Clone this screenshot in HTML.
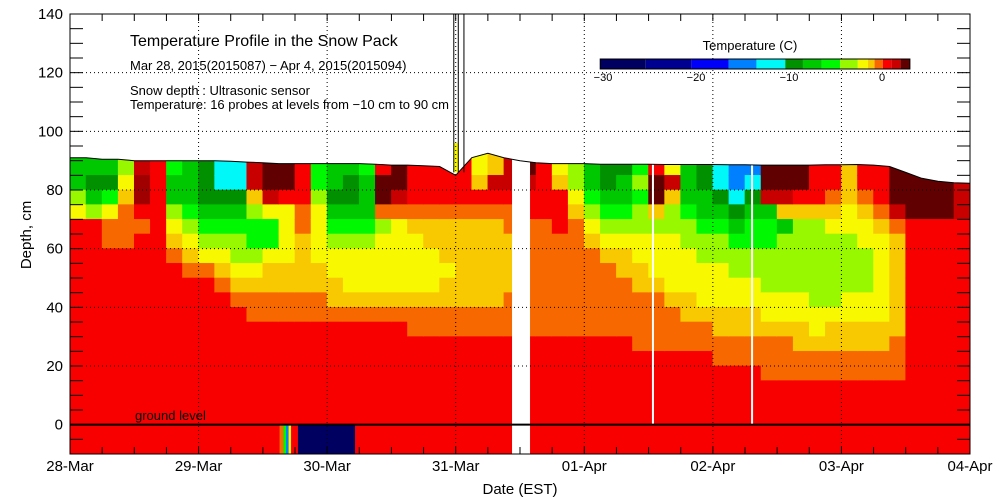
<!DOCTYPE html>
<html><head><meta charset="utf-8"><style>
html,body{margin:0;padding:0;background:#fff;}
svg{display:block;font-family:"Liberation Sans",sans-serif;}
</style></head><body>
<svg id="chart" width="1000" height="500" viewBox="0 0 1000 500" xmlns="http://www.w3.org/2000/svg">
<defs><clipPath id="snowclip"><polygon id="clipPoly" points=""/></clipPath></defs>
<g id="heat" clip-path="url(#snowclip)"></g>
<g id="overlay"></g>
<text x="130" y="46" font-size="16">Temperature Profile in the Snow Pack</text>
<text x="130" y="70" font-size="13">Mar 28, 2015(2015087) − Apr  4, 2015(2015094)</text>
<text x="130" y="95" font-size="13">Snow depth : Ultrasonic sensor</text>
<text x="130" y="109" font-size="13">Temperature: 16 probes at levels from −10 cm to 90 cm</text>
<text x="750" y="50" font-size="13" text-anchor="middle">Temperature (C)</text>
<g id="legend"></g>
<text x="520" y="494" font-size="15" text-anchor="middle">Date (EST)</text>
<text x="0" y="0" font-size="15" text-anchor="middle" transform="translate(31,235) rotate(-90)">Depth, cm</text>
<text x="135" y="420" font-size="13">ground level</text>
</svg>
<script>
const dayLabels = ["28-Mar","29-Mar","30-Mar","31-Mar","01-Apr","02-Apr","03-Apr","04-Apr"];
const depthTicks = [-10,0,20,40,60,80,100,120,140];
const depthTickLabels = ["","0","20","40","60","80","100","120","140"];
const snowDepth = [91,91,90.5,90.5,90,90,90,90,90,90,89.8,89.5,89.3,89,89,89,89,89,89,88.8,88.5,88.5,88.3,88,85,91,92.5,91,90,89.3,89,89,89,88.8,88.8,88.8,88.8,88.7,88.7,88.7,88.7,88.6,88.6,88.5,88.5,88.5,88.5,88.6,88.6,88.7,88.5,88,86,84,83,82.5,82.3];
const columns = ["GGYyrr","GDGYr","GDLyoo","Yyaooo","RMMro","rrrr","LGGYyao","GGGLYyao","DDDGLYyo","ccDGLYyao","ccDGLYYyao","RRaYLLYyaoo","KKRyLLyaaoo","KKryyyyaaoo","rrrooaaaaoo","LLYyyyyaaoo","GGDGLYyyaao","GDDGLYyyyao","LGGGLYyyyao","rKKoYyyyyao","KKRoyyyyyao","rrroayyyyaoo","rrroaayyyaoo","rrroaaayaaoo","rrroaaaaaaoo","yaroaaaaaaoo","aRroaaaaaaoo","RRrooaaaaooo","KRrroooooooo","rrrroooooooo","yarrrooooooo","YYyaoooooooo","GGLYyaoooooo","DDGLYyaooooo","DGGLYyaaoooo","LYLYYyyaaoooo","rKKaYyyyaoooo","yRaYYyyyyaooo","GGGLYYyyyaaoo","DDGGLYYyyyaoo","ccDGLYYyyyaaoo","bbcDGLYYyyaaoo","bcDGLLYYyyaaoo","KKRGLLYYYyyaooo","KKRaGYYYYyyaooo","KKraYYYYYyyaaoo","rrraYYYYYYyyaoo","rroayYYYYYyaaoo","aaayyYYYYyyaaoo","rroayyYYYyyaaoo","rrroayyyyyyaaoo","KKKRoaaaaaaaooo","KKKKrrrrrrrr","KKKK","KKKK","RRRR"];
const groundBlocks = [[1.63,1.66,"o"],[1.66,1.68,"L"],[1.68,1.70,"b"],[1.70,1.72,"y"],[1.72,1.745,"r"],[1.773,2.217,"N"]];
const gapStart = 3.438, gapEnd = 3.578;
const whiteLines = [4.534,5.305];
const spikeTimes = [2.985,3.02,3.064];
const spikeTop = 140;
const legendBounds = [-30.3,-25.4,-20.5,-16.5,-13.5,-10.4,-8.5,-6.5,-4.5,-2.6,-1.5,-0.8,0.1,1,2,3];
const legendCodes = ["N","n","U","b","c","D","G","L","Y","y","a","o","r","R","K"];
const legendTicks = [-30,-20,-10,0];

const palette = {N:"#000060",n:"#000090",U:"#0000f8",b:"#0080ff",c:"#00f8f8",D:"#009000",G:"#00c800",L:"#00f800",Y:"#98f800",y:"#f8f800",a:"#f8c800",o:"#f86800",r:"#f80000",R:"#c80000",M:"#a00000",K:"#600000"};
const X0=70,X1=970,Y0=14,Y1=454;
const xs = d => X0 + d*(X1-X0)/7;
const ys = v => Y1 - (v+10)*(Y1-Y0)/150;
const lx = t => 603 + (t+30)*9.3;
const NS="http://www.w3.org/2000/svg";
function mk(tag, attrs, parent){const e=document.createElementNS(NS,tag);for(const k in attrs)e.setAttribute(k,attrs[k]);parent.appendChild(e);return e;}
const svg=document.getElementById('chart'), heat=document.getElementById('heat'), ov=document.getElementById('overlay'), leg=document.getElementById('legend');

// clip polygon from snow depth
const step = 7/(snowDepth.length-1);
let pts = snowDepth.map((v,i)=>xs(i*step).toFixed(1)+","+ys(v).toFixed(1));
pts.push(X1+","+Y1, X0+","+Y1);
document.getElementById('clipPoly').setAttribute('points', pts.join(" "));

// base red below
let base = mk('rect',{x:X0,y:ys(15),width:X1-X0,height:Y1-ys(15),fill:palette.r},heat);


const cw = 7/columns.length;
columns.forEach((col,i)=>{
  for(let k=0;k<16;k++){
    const code = col[k] || "r";
    const top = k===0 ? 100 : 90-5*k, bot = 85-5*k;
    const r = mk('rect',{x:xs(i*cw)-0.3,y:ys(top)-0.3,width:xs(cw)-X0+0.6,height:ys(bot)-ys(top)+0.6,fill:palette[code]},heat);
    
    
  }
});
groundBlocks.forEach(b=>{
  const r = mk('rect',{x:xs(b[0]),y:ys(0),width:xs(b[1])-xs(b[0]),height:ys(-10)-ys(0),fill:palette[b[2]]},heat);
  
  
});
// spike yellow
let sp = mk('rect',{x:xs(spikeTimes[0]),y:ys(96),width:xs(spikeTimes[1])-xs(spikeTimes[0]),height:ys(86)-ys(96),fill:palette.y},ov);


// gap
let gp = mk('rect',{x:xs(gapStart),y:ys(95),width:xs(gapEnd)-xs(gapStart),height:Y1-ys(95),fill:"#fff"},ov);


whiteLines.forEach(d=>{
  const l = mk('rect',{x:xs(d)-1,y:ys(90),width:2,height:ys(0)-ys(90),fill:"#fff"},ov);
  
  
});
// snow line
let sl = mk('polyline',{points:snowDepth.map((v,i)=>xs(i*step).toFixed(1)+","+ys(v).toFixed(1)).join(" "),fill:"none",stroke:"#000","stroke-width":1},ov);


spikeTimes.forEach(d=>{
  const l = mk('line',{x1:xs(d),x2:xs(d),y1:Y0,y2:ys(86),stroke:"#000","stroke-width":1},ov);
  
  
});
// grid
depthTicks.forEach(v=>{
  if(v<=0||v>=140) return;
  const g = mk('line',{x1:X0,x2:X1,y1:ys(v),y2:ys(v),stroke:"#000","stroke-width":1,"stroke-dasharray":"1,3"},ov);
  
  
});
dayLabels.forEach((lab,i)=>{
  if(i>0 && i<7){
    const g = mk('line',{x1:xs(i),x2:xs(i),y1:Y0,y2:Y1,stroke:"#000","stroke-width":1,"stroke-dasharray":"1,3"},ov);
    
    
  }
  const t = mk('text',{x:xs(i),y:471,"font-size":15,"text-anchor":"middle"},ov);
  t.textContent = lab;
  
  
});
// ground line
let gl = mk('line',{x1:X0,x2:X1,y1:ys(0),y2:ys(0),stroke:"#000","stroke-width":2},ov);


// ticks
for(let v=-5; v<140; v+=5){
  const a = mk('line',{x1:X0,x2:X0+13,y1:ys(v),y2:ys(v),stroke:"#000"},ov);
  
  
  const b = mk('line',{x1:X1-13,x2:X1,y1:ys(v),y2:ys(v),stroke:"#000"},ov);
  
  
}
for(let d=0.25; d<7; d+=0.25){
  const a = mk('line',{x1:xs(d),x2:xs(d),y1:Y1-7,y2:Y1,stroke:"#000"},ov);
  
  
  const b = mk('line',{x1:xs(d),x2:xs(d),y1:Y0,y2:Y0+7,stroke:"#000"},ov);
  
  
}
depthTicks.forEach((v,i)=>{
  const t = mk('text',{x:63,y:ys(v)+5,"font-size":15,"text-anchor":"end"},ov);
  t.textContent = depthTickLabels[i];
  
  
});
let fr = mk('rect',{x:X0,y:Y0,width:X1-X0,height:Y1-Y0,fill:"none",stroke:"#000","stroke-width":1},ov);


// legend
legendCodes.forEach((c,i)=>{
  const r = mk('rect',{x:lx(legendBounds[i]),y:59,width:lx(legendBounds[i+1])-lx(legendBounds[i]),height:10,fill:palette[c]},leg);
  
  
});
let lf = mk('rect',{x:lx(legendBounds[0]),y:59,width:lx(legendBounds[legendBounds.length-1])-lx(legendBounds[0]),height:10,fill:"none",stroke:"#000"},leg);


legendTicks.forEach(t=>{
  const e = mk('text',{x:lx(t),y:81,"font-size":11,"text-anchor":"middle"},leg);
  e.textContent = t===0 ? "0" : "−"+Math.abs(t);
  
  
});
</script>
</body></html>
